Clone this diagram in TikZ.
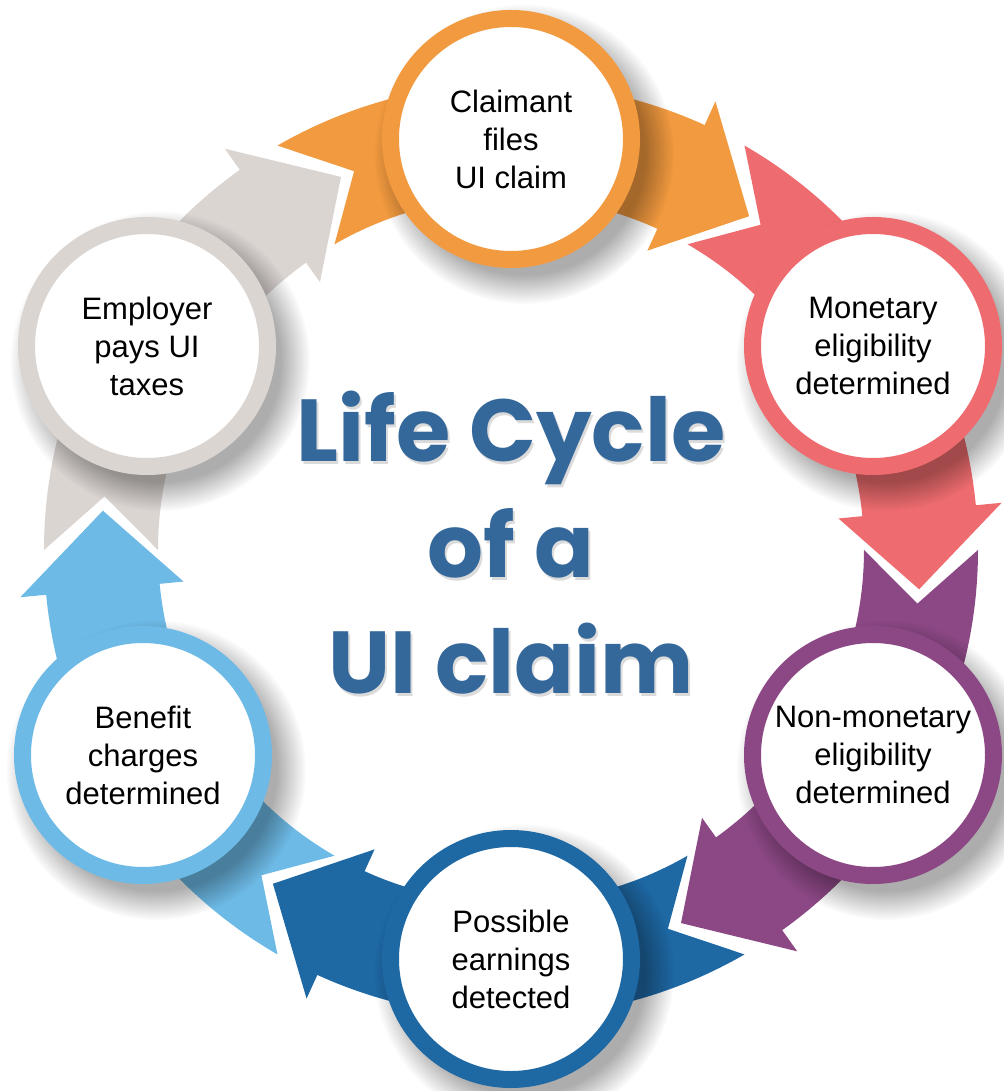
\documentclass[tikz,border=0pt]{standalone}
\usepackage{fontspec}
\setmainfont{Liberation Sans}
\newfontfamily\titlefont{Poppins}
\usetikzlibrary{fadings}

\definecolor{cOrange}{HTML}{F29A3F}
\definecolor{cPink}{HTML}{EE6C6F}
\definecolor{cPurple}{HTML}{8C4885}
\definecolor{cBlue}{HTML}{1E68A4}
\definecolor{cSky}{HTML}{6DBAE6}
\definecolor{cStone}{HTML}{DBD5D2}
\definecolor{cTitle}{HTML}{34679A}

% Curved band arrow centred on angle #1 of the cycle, running clockwise,
% with a notched tail and a pointed head.
\newcommand{\cyclearrow}[2]{%
  \fill[#2] (#1+30:467) arc[start angle=#1+30, end angle=#1-24.5, radius=467]
    -- (#1-24.5:493) -- (#1-35.5:410) -- (#1-24.5:329) -- (#1-24.5:353)
    arc[start angle=#1-24.5, end angle=#1+30, radius=353]
    -- (#1+22.5:410) -- cycle;}

% Soft shadow cast by a stage disc centred at #1
\newcommand{\stageshadow}[1]{%
  \fill[black, opacity=0.32, path fading=circle with fuzzy edge 20 percent]
    ([shift={(13,-15)}]#1) circle[radius=150];}

\begin{document}
\begin{tikzpicture}[x=0.5pt,y=0.5pt,
  stage/.style={circle, draw=#1, fill=white, line width=8.5pt,
    minimum size=120.5pt, inner sep=0pt, align=center,
    font=\fontsize{15.5}{19}\selectfont},
  heading/.style={text=cTitle, anchor=base, inner sep=0pt,
    font=\titlefont\bfseries\fontsize{44}{50}\selectfont},
  headshadow/.style={text=black, opacity=0.14, anchor=base, inner sep=0pt,
    font=\titlefont\bfseries\fontsize{44}{50}\selectfont}]
\useasboundingbox (-511,-541) rectangle (492,550);

% arrows of the cycle
\cyclearrow{90}{cOrange}
\cyclearrow{30}{cPink}
\cyclearrow{-30}{cPurple}
\cyclearrow{-90}{cBlue}
\cyclearrow{-150}{cSky}
\cyclearrow{150}{cStone}

% stage positions and their shadows
\coordinate (pclaim) at (0,411);
\coordinate (pmonetary) at (362,204);
\coordinate (pnonmonetary) at (362,-205);
\coordinate (pearnings) at (0,-409);
\coordinate (pcharges) at (-368,-205);
\coordinate (ptaxes) at (-364,204);
\foreach \p in {pclaim,pmonetary,pnonmonetary,pearnings,pcharges,ptaxes}
  {\stageshadow{\p}}

% stages
\node[stage=cOrange] (claim) at (pclaim) {Claimant\\files\\UI claim};
\node[stage=cPink] (monetary) at (pmonetary) {Monetary\\eligibility\\determined};
\node[stage=cPurple] (nonmonetary) at (pnonmonetary) {Non-monetary\\eligibility\\determined};
\node[stage=cBlue] (earnings) at (pearnings) {Possible\\earnings\\detected};
\node[stage=cSky] (charges) at (pcharges) {Benefit\\charges\\determined};
\node[stage=cStone] (taxes) at (ptaxes) {Employer\\pays UI\\taxes};

% title
\node[headshadow] (s1) at (2,85) {Life Cycle};
\node[headshadow] (s2) at (2,-31) {of a};
\node[headshadow] (s3) at (2,-146) {UI claim};
\node[heading] (t1) at (0,88) {Life Cycle};
\node[heading] (t2) at (0,-28) {of a};
\node[heading] (t3) at (0,-143) {UI claim};
\end{tikzpicture}
\end{document}
